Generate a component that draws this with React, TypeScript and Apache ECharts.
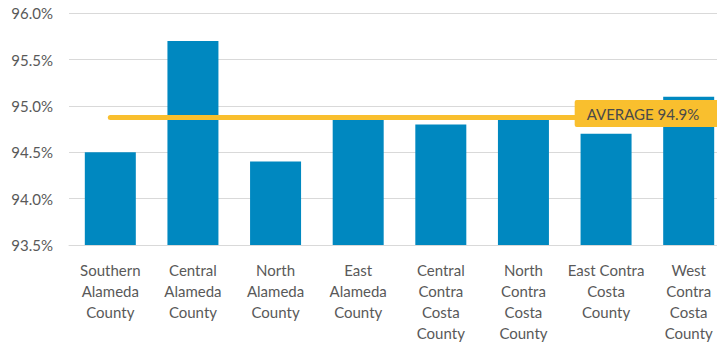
import React, { useEffect, useRef } from "react";
import * as echarts from "echarts";

const categories = [
  "Southern\nAlameda\nCounty",
  "Central\nAlameda\nCounty",
  "North\nAlameda\nCounty",
  "East\nAlameda\nCounty",
  "Central\nContra\nCosta\nCounty",
  "North\nContra\nCosta\nCounty",
  "East Contra\nCosta\nCounty",
  "West\nContra\nCosta\nCounty",
];
const values = [94.5, 95.7, 94.4, 94.9, 94.8, 94.9, 94.7, 95.1];
const averageValue = 94.875;
const averageLabel = "AVERAGE 94.9%";
const yMin = 93.5;
const yMax = 96.0;
const yInterval = 0.5;

const FONT = "Lato";
const TEXT_COLOR = "#595959";
const BAR_COLOR = "#0088C0";
const AVG_COLOR = "#F9BF2E";

export default function App() {
  const ref = useRef<HTMLDivElement>(null);
  useEffect(() => {
    if (!ref.current) return;
    const chart = echarts.init(ref.current, undefined, { renderer: "svg" });
    chart.setOption({
      animation: false,
      textStyle: { fontFamily: FONT },
      grid: { left: 69, right: 0, top: 13.3, bottom: 101, containLabel: false },
      xAxis: {
        type: "category",
        data: categories,
        axisLine: { show: true, lineStyle: { color: "#D9D9D9", width: 1 } },
        axisTick: { show: false },
        axisLabel: {
          interval: 0,
          color: TEXT_COLOR,
          fontFamily: FONT,
          fontSize: 15,
          lineHeight: 21,
          margin: 14,
        },
      },
      yAxis: {
        type: "value",
        min: yMin,
        max: yMax,
        interval: yInterval,
        axisLine: { show: false },
        axisTick: { show: false },
        splitLine: { show: true, lineStyle: { color: "#D9D9D9", width: 1 } },
        axisLabel: {
          color: TEXT_COLOR,
          fontFamily: FONT,
          fontSize: 15,
          margin: 16,
          formatter: (v: number) => v.toFixed(1) + "%",
        },
      },
      series: [
        {
          type: "bar",
          data: values,
          barWidth: 51,
          itemStyle: { color: BAR_COLOR },
          markLine: {
            silent: true,
            symbol: "none",
            lineStyle: { color: AVG_COLOR, width: 5, type: "solid", cap: "round" },
            label: {
              show: true,
              position: "end",
              distance: -114,
              offset: [0, -4],
              formatter: averageLabel,
              color: "#4A4A4A",
              fontFamily: FONT,
              fontSize: 15,
              backgroundColor: AVG_COLOR,
              padding: [6, 20, 6, 12],
              borderRadius: 2,
            },
            data: [
              [
                { coord: [0, averageValue] },
                { coord: [7, averageValue] },
              ],
            ],
          },
        },
      ],
    });
    return () => chart.dispose();
  }, []);
  return (
    <div
      ref={ref}
      style={{ position: "fixed", left: 0, top: 0, width: 730, height: 346, background: "#fff" }}
    />
  );
}
